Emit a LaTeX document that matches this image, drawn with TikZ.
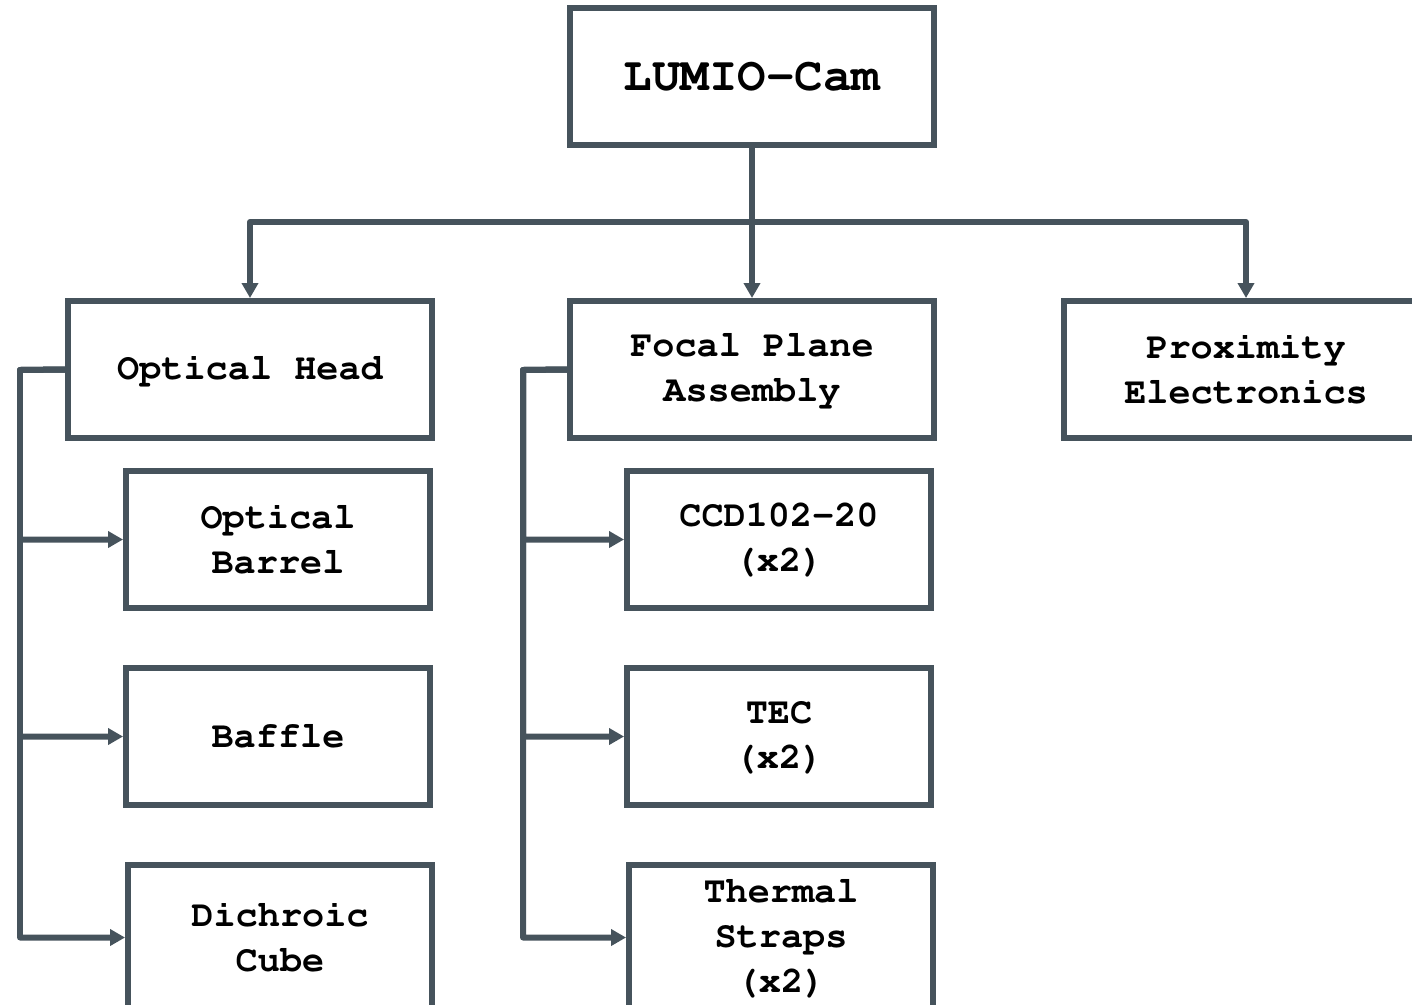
\documentclass[tikz,border=0pt]{standalone}
\usepackage[T1]{fontenc}
\usepackage{courier}
\usetikzlibrary{arrows.meta,shadows}

\definecolor{slate}{HTML}{46535C}

\tikzset{
  box/.style={draw=slate, line width=0.12cm, fill=white,
    minimum width=7.28cm, minimum height=2.74cm, align=center,
    font=\ttfamily\bfseries\fontsize{21}{25.6}\selectfont,
    drop shadow={opacity=0.18, shadow xshift=0.03cm, shadow yshift=-0.06cm}},
  subbox/.style={box, minimum width=6.08cm},
  lowbox/.style={subbox, minimum height=2.9cm},
  link/.style={draw=slate, line width=0.12cm, line join=round},
  feed/.style={link, -{Triangle[length=0.3cm,width=0.32cm]}},
}

\begin{document}
\begin{tikzpicture}[x=0.02cm, y=-0.02cm]
    \useasboundingbox (0,0) rectangle (1412,1004);
    \clip (0,0) rectangle (1412,1004);

    % top level
    \node [box, font=\ttfamily\bfseries\fontsize{27}{32}\selectfont] (cam) at (752, 76.5) {LUMIO-Cam};

    % second level
    \node [box] (head) at (250, 369.5) {Optical Head};
    \node [box] (fpa) at (752, 369.5) {Focal Plane\\Assembly};
    \node [box] (prox) at (1246, 369.5) {Proximity\\Electronics};

    % optical head parts
    \node [subbox] (barrel) at (278, 539.5) {Optical\\Barrel};
    \node [subbox] (baffle) at (278, 736.5) {Baffle};
    \node [lowbox] (cube) at (280, 937.5) {Dichroic\\Cube};

    % focal plane parts
    \node [subbox] (ccd) at (779, 539.5) {CCD102-20\\(x2)};
    \node [subbox] (tec) at (779, 736.5) {TEC\\(x2)};
    \node [lowbox] (straps) at (781, 937.5) {Thermal\\Straps\\(x2)};

    \coordinate (split) at (752, 222);
    \coordinate (headbus) at (20, 370);
    \coordinate (fpabus) at (523, 370);

    \draw [link] (cam.south) -- (split);
    \draw [feed] (split) -| (head.north);
    \draw [feed] (split) -- (fpa.north);
    \draw [feed] (split) -| (prox.north);

    \foreach \kid in {barrel, baffle, cube}
      \draw [feed] (head.west) -- (headbus) |- (\kid.west);
    \foreach \kid in {ccd, tec, straps}
      \draw [feed] (fpa.west) -- (fpabus) |- (\kid.west);
\end{tikzpicture}
\end{document}
